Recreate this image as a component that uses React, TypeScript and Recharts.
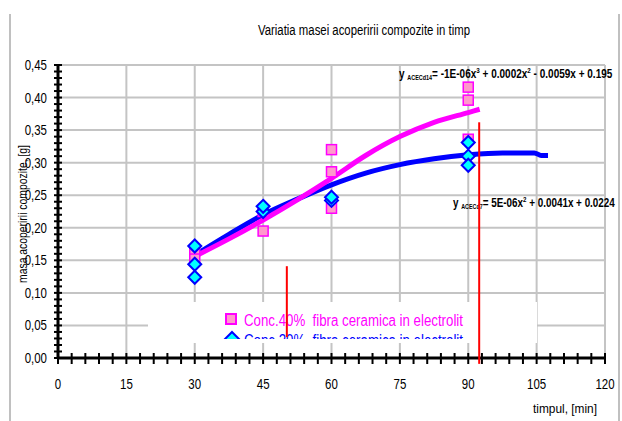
import React from "react";
import {
  ComposedChart,
  XAxis,
  YAxis,
  CartesianGrid,
  Scatter,
  Line,
  ReferenceLine,
} from "recharts";

// ---------- data ----------
const xMajorTicks = [0, 15, 30, 45, 60, 75, 90, 105, 120];
const xMinorTicks = Array.from({ length: 41 }, (_, i) => i * 3);
const yMajorTicks = [0, 0.05, 0.1, 0.15, 0.2, 0.25, 0.3, 0.35, 0.4, 0.45];
const yMinorTicks = Array.from({ length: 46 }, (_, i) => i / 100);

const conc40Points = [
  { x: 30, y: 0.165 },
  { x: 30, y: 0.152 },
  { x: 45, y: 0.225 },
  { x: 45, y: 0.195 },
  { x: 60, y: 0.32 },
  { x: 60, y: 0.286 },
  { x: 60, y: 0.23 },
  { x: 90, y: 0.416 },
  { x: 90, y: 0.396 },
  { x: 90, y: 0.336 },
];

const conc20Points = [
  { x: 30, y: 0.172 },
  { x: 30, y: 0.144 },
  { x: 30, y: 0.124 },
  { x: 45, y: 0.225 },
  { x: 45, y: 0.233 },
  { x: 60, y: 0.242 },
  { x: 60, y: 0.247 },
  { x: 90, y: 0.31 },
  { x: 90, y: 0.296 },
  { x: 90, y: 0.331 },
];

const conc40Trend = [
  { x: 30, y: 0.156 },
  { x: 37.5, y: 0.183 },
  { x: 45, y: 0.212 },
  { x: 52.5, y: 0.243 },
  { x: 60, y: 0.276 },
  { x: 67.5, y: 0.311 },
  { x: 75, y: 0.34 },
  { x: 82.5, y: 0.362 },
  { x: 90, y: 0.377 },
  { x: 92.5, y: 0.382 },
];

const conc20Trend = [
  { x: 30, y: 0.158 },
  { x: 37.5, y: 0.19 },
  { x: 45, y: 0.22 },
  { x: 52.5, y: 0.244 },
  { x: 60, y: 0.266 },
  { x: 67.5, y: 0.284 },
  { x: 75, y: 0.297 },
  { x: 82.5, y: 0.306 },
  { x: 90, y: 0.312 },
  { x: 97.5, y: 0.315 },
  { x: 104.5, y: 0.315 },
  { x: 106, y: 0.311 },
  { x: 107.5, y: 0.311 },
];

const redMarkers = [
  { x: 50.2, y1: 0.032, y2: 0.141 },
  { x: 92.4, y1: -0.009, y2: 0.362 },
];

const titleText = "Variatia masei acoperirii compozite in timp";
const yLabelText = "masa acoperirii compozite, [g]";
const xLabelText = "timpul, [min]";
const legend40 = "Conc.40%  fibra ceramica in electrolit";
const legend20 = "Conc.20%  fibra ceramica in electrolit";

// ---------- styling ----------
const W = 622;
const H = 421;
const MARGIN = { top: 65, right: 17, bottom: 0, left: 0 };
const Y_W = 58;
const X_H = 63;
const FONT = "'Liberation Sans', Arial, sans-serif";
const PINK = "#ff00ff";
const BLUE = "#0000ff";
const GRID = "#c4c4c4";

const isMajorY = (v: number) => Math.abs(v * 20 - Math.round(v * 20)) < 1e-6;

const XTick = (props: any) => {
  const { x, y, payload } = props;
  const v = payload.value;
  const major = xMajorTicks.includes(v);
  return (
    <g>
      <line x1={x} x2={x} y1={y - 5} y2={y + 6} stroke="#000" strokeWidth={2} />
      {major && (
        <text
          transform={`translate(${x},${y + 31}) scale(0.82,1)`}
          textAnchor="middle"
          fontSize={14}
          fontFamily={FONT}
          fill="#000"
        >
          {v}
        </text>
      )}
    </g>
  );
};

const YTick = (props: any) => {
  const { x, y, payload } = props;
  const v = payload.value;
  const major = isMajorY(v);
  return (
    <g>
      <line x1={x - 4} x2={x + 4} y1={y} y2={y} stroke="#000" strokeWidth={2} />
      {major && (
        <text
          transform={`translate(${x - 11},${y + 5}) scale(0.82,1)`}
          textAnchor="end"
          fontSize={14}
          fontFamily={FONT}
          fill="#000"
        >
          {v.toFixed(2).replace(".", ",")}
        </text>
      )}
    </g>
  );
};

const SquareShape = (props: any) => {
  const { cx, cy } = props;
  if (cx == null || cy == null) return null;
  return (
    <rect x={cx - 5} y={cy - 5} width={10} height={10} fill="#ff99cc" stroke={PINK} strokeWidth={1.5} />
  );
};

const DiamondShape = (props: any) => {
  const { cx, cy } = props;
  if (cx == null || cy == null) return null;
  const r = 6.5;
  return (
    <polygon
      points={`${cx},${cy - r} ${cx + r},${cy} ${cx},${cy + r} ${cx - r},${cy}`}
      fill="#00ffff"
      stroke={BLUE}
      strokeWidth={2}
    />
  );
};

const gridX = (p: any) =>
  xMajorTicks
    .filter((v) => v > 0)
    .map((v) =>
      p && p.xAxis && typeof p.xAxis.scale === "function"
        ? p.xAxis.scale(v)
        : p.offset.left + (v / 120) * p.offset.width
    );

const gridY = (p: any) =>
  yMajorTicks
    .filter((v) => v > 0)
    .map((v) =>
      p && p.yAxis && typeof p.yAxis.scale === "function"
        ? p.yAxis.scale(v)
        : p.offset.top + (1 - v / 0.45) * p.offset.height
    );

const layer: React.CSSProperties = { position: "absolute", left: 0, top: 0 };

const redData = redMarkers.flatMap((m) => [
  { x: m.x, y: m.y1 },
  { x: m.x, y: m.y2 },
]);

export default function App() {
  return (
    <div style={{ position: "absolute", left: 0, top: 0, width: W, height: H, background: "#fff" }}>
      {/* Layer 1: chart */}
      <div style={layer}>
        <ComposedChart width={W} height={H} margin={MARGIN}>
          <CartesianGrid
            stroke={GRID}
            strokeWidth={2}
            verticalCoordinatesGenerator={gridX}
            horizontalCoordinatesGenerator={gridY}
          />
          <XAxis
            type="number"
            dataKey="x"
            domain={[0, 120]}
            ticks={xMinorTicks}
            interval={0}
            height={X_H}
            tickSize={0}
            tickMargin={0}
            tickLine={false}
            axisLine={{ stroke: "#000", strokeWidth: 3 }}
            tick={<XTick />}
            allowDataOverflow
          />
          <YAxis
            type="number"
            dataKey="y"
            domain={[0, 0.45]}
            ticks={yMinorTicks}
            interval={0}
            width={Y_W}
            tickSize={0}
            tickMargin={0}
            tickLine={false}
            axisLine={{ stroke: "#000", strokeWidth: 3 }}
            tick={<YTick />}
            allowDataOverflow
          />
          <Scatter data={conc40Points} dataKey="y" shape={<SquareShape />} isAnimationActive={false} />
          <Line
            data={conc20Trend}
            dataKey="y"
            type="monotone"
            stroke={BLUE}
            strokeWidth={5}
            dot={false}
            activeDot={false}
            isAnimationActive={false}
          />
          <Line
            data={conc40Trend}
            dataKey="y"
            type="monotone"
            stroke={PINK}
            strokeWidth={5}
            dot={false}
            activeDot={false}
            isAnimationActive={false}
          />
          <Scatter data={conc20Points} dataKey="y" shape={<DiamondShape />} isAnimationActive={false} />
        </ComposedChart>
      </div>

      {/* Layer 2: texts and legend */}
      <svg width={W} height={H} style={layer} fontFamily={FONT}>
        <defs>
          <clipPath id="legendClip">
            <rect x={148} y={302} width={389} height={37} />
          </clipPath>
        </defs>
        <line x1={10} x2={10} y1={14} y2={H} stroke="#c0c0c0" strokeWidth={2} />
        <line x1={619} x2={619} y1={14} y2={H} stroke="#c0c0c0" strokeWidth={2} />
        <text x={364} y={35} textAnchor="middle" fontSize={14} textLength={212} lengthAdjust="spacingAndGlyphs" fill="#000">
          {titleText}
        </text>
        <text
          transform="translate(27,214) rotate(-90)"
          textAnchor="middle"
          fontSize={13}
          textLength={138}
          lengthAdjust="spacingAndGlyphs"
          fill="#000"
        >
          {yLabelText}
        </text>
        <text x={533} y={413} fontSize={13} textLength={64} lengthAdjust="spacingAndGlyphs" fill="#000">
          {xLabelText}
        </text>
        {/* equations */}
        <text
          transform="translate(399,78) scale(0.84,1)"
          fontSize={12}
          fontWeight="bold"
          textLength={254}
          lengthAdjust="spacingAndGlyphs"
          fill="#000"
        >
          <tspan>{"y "}</tspan>
          <tspan fontSize={6.5} dy={2}>ACECd14</tspan>
          <tspan dy={-2}>{"= -1E-06x"}</tspan>
          <tspan fontSize={7.5} dy={-5}>3</tspan>
          <tspan dy={5}>{" + 0.0002x"}</tspan>
          <tspan fontSize={7.5} dy={-5}>2</tspan>
          <tspan dy={5}>{" - 0.0059x + 0.195"}</tspan>
        </text>
        <text
          transform="translate(453,207) scale(0.83,1)"
          fontSize={12}
          fontWeight="bold"
          textLength={195}
          lengthAdjust="spacingAndGlyphs"
          fill="#000"
        >
          <tspan>{"y "}</tspan>
          <tspan fontSize={6.5} dy={2}>ACECd7</tspan>
          <tspan dy={-2}>{"= 5E-06x"}</tspan>
          <tspan fontSize={7.5} dy={-5}>2</tspan>
          <tspan dy={5}>{" + 0.0041x + 0.0224"}</tspan>
        </text>
        {/* legend */}
        <rect x={148} y={302} width={389} height={41} fill="#fff" />
        <g clipPath="url(#legendClip)">
          <rect x={226} y={314} width={10} height={10} fill="#ff99cc" stroke={PINK} strokeWidth={2} />
          <text
            x={244}
            y={326}
            fontSize={16}
            fill={PINK}
            textLength={219}
            lengthAdjust="spacingAndGlyphs"
            style={{ whiteSpace: "pre" }}
          >
            {legend40}
          </text>
          <polygon points="232,332 239,339 232,346 225,339" fill="#00ffff" stroke={BLUE} strokeWidth={2} />
          <text
            x={244}
            y={346}
            fontSize={16}
            fill={BLUE}
            textLength={219}
            lengthAdjust="spacingAndGlyphs"
            style={{ whiteSpace: "pre" }}
          >
            {legend20}
          </text>
        </g>
      </svg>

      {/* Layer 3: red marker lines */}
      <div style={layer}>
        <ComposedChart width={W} height={H} margin={MARGIN} data={redData}>
          <XAxis
            type="number"
            dataKey="x"
            domain={[0, 120]}
            height={X_H}
            axisLine={false}
            tickLine={false}
            tick={false}
            allowDataOverflow
          />
          <YAxis
            type="number"
            dataKey="y"
            domain={[0, 0.45]}
            width={Y_W}
            axisLine={false}
            tickLine={false}
            tick={false}
            allowDataOverflow
          />
          {redMarkers.map((m, i) => (
            <ReferenceLine
              key={i}
              segment={[
                { x: m.x, y: m.y1 },
                { x: m.x, y: m.y2 },
              ]}
              stroke="#ff0000"
              strokeWidth={2}
              ifOverflow="visible"
            />
          ))}
        </ComposedChart>
      </div>
    </div>
  );
}
